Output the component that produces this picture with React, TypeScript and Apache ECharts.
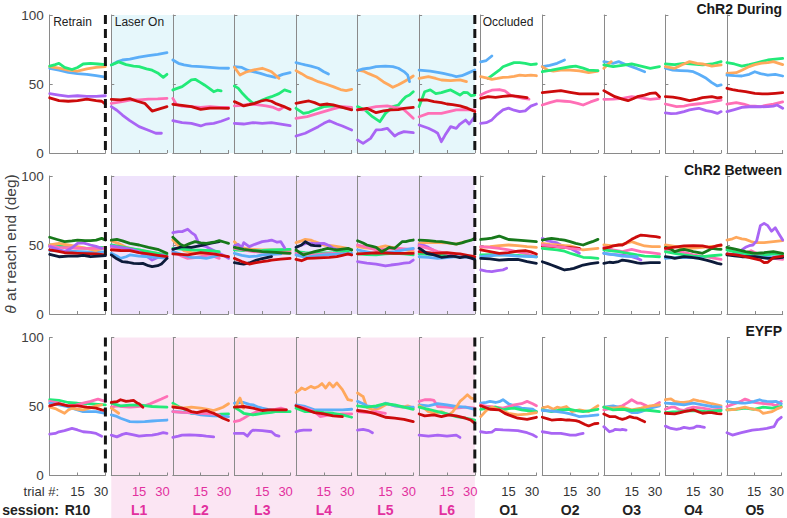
import React, { useEffect, useRef } from "react";
import * as echarts from "echarts";

// ---------------- data ----------------
const SESSIONS = ["R10", "L1", "L2", "L3", "L4", "L5", "L6", "O1", "O2", "O3", "O4", "O5"];
const ROW_TITLES = ["ChR2 During", "ChR2 Between", "EYFP"];
const PHASE_LABELS = [
  { col: 0, text: "Retrain" },
  { col: 1, text: "Laser On" },
  { col: 7, text: "Occluded" },
];
const X_TICK_LABELS = [15, 30];
const Y_TICKS = [0, 50, 100];

const COLORS: Record<string, string> = {
  blue: "#5BAEF8",
  orange: "#FFA85C",
  green: "#22EA78",
  pink: "#FF6FB6",
  red: "#CC0B0B",
  purple: "#A965F4",
  dkgreen: "#17781A",
  navy: "#0D1B3A",
};

type Line = [string, number[][]];

// Row 1: ChR2 During (one list of lines per session)
const DURING: Line[][] = [
  [
    ["blue", [[0,61.4],[5,60],[10,58.5],[15,57.5],[20,57],[25,56],[30,55]]],
    ["orange", [[0,62.6],[5,61.5],[10,60],[15,59.4],[20,61],[25,62],[30,62.6]]],
    ["green", [[0,63],[3,64],[5,65],[8,62],[12,60.5],[15,62],[18,64.5],[22,65],[26,64.5],[30,64]]],
    ["purple", [[0,43],[5,42],[10,41],[15,41.5],[20,41],[25,41],[30,41.5]]],
    ["red", [[0,40],[5,38],[10,37.5],[15,38],[20,39],[25,38],[28,37.5],[30,35.5]]],
  ],
  [
    ["blue", [[0,63.8],[3,66],[6,67.4],[10,68],[15,69.5],[20,70.5],[25,71.5],[30,72.7]]],
    ["green", [[0,63.8],[4,66],[8,64],[12,63],[15,62.6],[19,61],[22,60],[25,58],[28,54.8],[30,57]]],
    ["pink", [[0,36],[5,37],[10,38.4],[15,38.5],[20,39],[25,39.2],[30,39.6]]],
    ["red", [[0,38.9],[5,38.5],[10,39.4],[14,37.5],[18,36],[22,30.4],[26,32],[30,33.6]]],
    ["purple", [[0,33.6],[3,31],[6,27.5],[10,23.5],[15,19.1],[20,16.5],[24,14.3],[27,14.3]]],
  ],
  [
    ["blue", [[0,67.4],[3,65],[6,63.8],[10,63],[15,62.6],[20,62],[25,61.5],[30,61.4]]],
    ["green", [[0,45.7],[5,48.1],[8,51],[10,53],[12,53.4],[15,51],[17,49.3],[20,46.5],[22,44.4],[24,45.5],[26,45]]],
    ["pink", [[0,39.6],[2,35],[5,34],[10,33.6],[15,33.1],[20,33.5],[25,33],[30,33.1]]],
    ["red", [[0,35.3],[5,34.5],[10,33.6],[15,31.6],[20,32.5],[25,32.5],[30,32.4]]],
    ["purple", [[0,23.4],[5,22],[10,21.5],[15,19.6],[18,21],[22,21.5],[26,23],[30,25]]],
  ],
  [
    ["blue", [[0,62.6],[4,62],[7,60],[10,59],[14,57.7],[18,56],[22,54.8],[26,57],[30,58.2]]],
    ["orange", [[0,62.1],[3,56.5],[6,58.5],[10,60.1],[15,61.4],[18,60],[20,58.9],[22,56.5],[24,54.1]]],
    ["green", [[0,48.6],[2,47],[4,43.7],[7,39.5],[10,36],[13,37],[15,38.4],[18,40],[20,40.8],[24,43],[27,45.7],[30,44.4]]],
    ["pink", [[0,34.1],[4,34.5],[8,35.5],[12,35],[17,34.1],[21,33],[24,31.2],[27,33.6]]],
    ["red", [[0,37.2],[3,35.5],[5,34.1],[8,35],[11,36],[14,37.5],[17,38.4],[20,37.5],[22,36],[26,34],[30,31.6]]],
    ["purple", [[0,21.5],[5,21],[10,22],[15,21.5],[20,22],[25,21],[30,19.8]]],
  ],
  [
    ["blue", [[0,65.5],[3,64.5],[5,63.8],[8,63],[12,61.4],[15,58.9],[17.5,57.2]]],
    ["orange", [[0,59.7],[3,57.5],[6,55],[9,53.5],[12,51.7],[16,50],[20,48.1],[24,46],[27,45.2],[30,46.1]]],
    ["green", [[0,32.4],[4,28.7],[7,29.5],[10,31.2],[15,33.6],[20,34.1],[25,33.1],[30,32]]],
    ["pink", [[0,25.1],[6,26.3],[10,28],[15,30],[20,32],[25,33.6],[30,33.1]]],
    ["red", [[0,36],[4,37],[7,37.7],[10,36.5],[13,34.8],[17,35.5],[20,34.8],[25,33],[30,31.2]]],
    ["purple", [[0,12.3],[5,14.3],[9,17],[12,19.1],[15,21.5],[18,23.4],[22,21],[25,19.6],[30,16.7]]],
  ],
  [
    ["orange", [[0,60.1],[3,59.4],[6,57.5],[10,55.3],[14,51.5],[17,49.3],[19,47.6],[22,49.5],[25,51.7],[28,54],[30,55.8]]],
    ["blue", [[0,59.7],[3,61],[6,61.4],[10,62.6],[15,63],[19,62.6],[22,61.4],[25,59],[27,56.5],[28,51.7]]],
    ["green", [[0,33.6],[4,31.2],[8,26.3],[12,22.7],[15,28.7],[19,33.6],[22,34.8],[24,38],[26,40.8],[28,42],[30,44.4]]],
    ["pink", [[0,31.6],[3,31.2],[6,32.5],[10,33.6],[16,34.1],[20,33],[24,32.4],[27,29],[30,25.1]]],
    ["red", [[0,31.2],[5,32.4],[10,29.2],[14,30.5],[18,31.2],[22,31.5],[25,32.4],[30,33.1]]],
    ["purple", [[0,9.4],[3,7],[7,10.6],[10,16.7],[13,17],[16,17.9],[20,12.3],[22,14],[25,15.5],[30,14.7]]],
  ],
  [
    ["blue", [[0,60.1],[6,59.4],[10,58.5],[13,57.7],[17,56.5],[20,55.3],[23,56],[26,57.7],[30,60.1]]],
    ["orange", [[0,54.1],[5,55.3],[9,54],[12,52.9],[17,52.4],[22,53],[25.5,51.7]]],
    ["green", [[0,33.6],[3,44.4],[6,45.7],[9,43],[12,43.7],[15,45],[17,45.7],[20,43.5],[22,42],[24,44],[26,43.7],[28,41.5],[30,42]]],
    ["pink", [[0,26.3],[5,28.7],[12,28.7],[16,30],[20,31.2],[25,31.5],[30,31.2]]],
    ["red", [[0,38.4],[4,38.5],[8,37.2],[12,36.5],[15,35.5],[18,35],[22,34.1],[26,32.5],[30,30]]],
    ["purple", [[0,20.3],[5,17.9],[8,16],[10,14.3],[12,8.2],[14,13],[17,19.1],[20,17.9],[22,21],[25,23.9],[27,21],[30,26.3]]],
  ],
  [
    ["blue", [[0,66],[3,67],[6,70.3]]],
    ["green", [[4,54],[6,56],[8,58],[10,60],[12,62.5],[15,64],[18,65.5],[21,65.5],[24,65],[27,64],[30,64.5]]],
    ["orange", [[0,55.3],[3,54.5],[6,53.4],[9,54],[12,54.8],[15,55],[18,55.5],[21,56.5],[24,56],[27,56.5],[30,56]]],
    ["pink", [[0,42],[3,44],[6,45.5],[10,46],[13,45],[16,42],[20,40.5],[23,39.6],[26,39]]],
    ["red", [[0,39.6],[4,40.8],[8,40.3],[12,41],[16,41.5],[20,41],[25,40.1]]],
    ["purple", [[0,21.5],[3,22],[6,24],[9,28],[12,31.2],[15,32.5],[18,31],[21,30],[24,30.5],[27,34],[30,35.5]]],
  ],
  [
    ["blue", [[0,62.6],[4,63.5],[8,65],[12,67.4]]],
    ["orange", [[0,62.6],[3,60],[6,59.4],[10,60],[15,60.1],[20,59.5],[25,58.2],[30,59.4]]],
    ["green", [[0,58.9],[5,60],[10,61.4],[15,62.5],[18,63],[22,61.5],[25,60.1],[30,59.7]]],
    ["red", [[0,43.7],[5,44.5],[10,45.2],[15,44],[20,42.8],[25,42.8],[30,42.8]]],
    ["pink", [[0,34.8],[4,36.5],[8,37.9],[12,37.5],[15,37.2],[19,36],[22,34.8],[26,37],[30,38.9]]],
  ],
  [
    ["blue", [[0,66.2],[5,65],[8,66.2],[12,64],[15,62.6],[18,61],[22,58.9]]],
    ["orange", [[0,61.4],[2,64],[4,66.2]]],
    ["green", [[0,63.8],[5,62.6],[10,63.5],[15,64.5],[20,63],[25,61.4],[30,62.6]]],
    ["pink", [[0,38.9],[5,39],[10,39.6],[15,40.8],[20,40],[25,38.9],[30,39.6]]],
    ["red", [[0,45.2],[3,43],[6,40.8],[10,39],[13,37.9],[16,39.5],[18,40.8],[22,42],[25,43.2],[28,43.5],[30,40.8]]],
  ],
  [
    ["blue", [[0,61.4],[4,60],[8,59.7],[12,59.5],[15,58.9],[18,57],[22,54.1],[25,51],[28,48.6],[30,49.3]]],
    ["green", [[0,64.5],[5,64],[10,65],[15,64.5],[20,63.8],[25,64.5],[30,66.2]]],
    ["orange", [[0,62.6],[5,61.4],[9,64],[13,66.2],[17,65],[20,64.5],[25,63],[30,63.8]]],
    ["pink", [[0,35.5],[6,33.6],[10,34],[13,34.8],[17,35.5],[20,36],[25,37],[30,38.4]]],
    ["red", [[0,40.8],[4,40.5],[8,39.6],[13,37.9],[17,39],[20,40.1],[25,40.8],[28,40],[30,40.3]]],
    ["purple", [[0,29],[3,28.5],[6,28.7],[10,30],[13,31.2],[16,32],[18,32.4],[22,30.7],[25,30],[28,28.7],[30,30]]],
  ],
  [
    ["green", [[0,65.5],[4,64.5],[8,63],[12,64],[15,65],[18,66],[22,67.4],[26,68],[30,68.6]]],
    ["orange", [[0,57.7],[5,58.2],[8,60],[12,62.6],[15,64],[18,65],[22,65.5],[25,66.2],[30,64]]],
    ["blue", [[0,56.5],[4,56],[8,55.8],[12,57],[15,58.9],[18,57.5],[22,56.5],[26,57],[30,55.8]]],
    ["red", [[0,46.9],[3,46],[6,45.2],[10,44.5],[15,43.2],[19,42.8],[22,42.8],[26,43.2],[30,43.7]]],
    ["pink", [[0,35.5],[5,36.5],[9,35.5],[12,34.1],[15,34],[18,33.6],[21,34.5],[25,35.5],[30,37]]],
    ["purple", [[0,30],[4,31.5],[8,33.1],[12,33.5],[15,33.6],[18,33.5],[22,33.6],[25,34],[27,34.8],[30,32.4]]],
  ],
];

// Row 2: ChR2 Between
const BETWEEN: Line[][] = [
  [
    ["blue", [[0,46],[10,45.5],[20,45],[30,45]]],
    ["green", [[0,50],[5,49.3],[10,48.3],[15,48],[20,47.6],[25,48],[30,48.3]]],
    ["orange", [[0,50],[5,51.2],[10,50],[15,48.8],[20,47.5],[25,46],[30,48.3]]],
    ["pink", [[0,49.3],[5,48.3],[10,48],[15,47.6],[20,47.6],[25,47.6],[30,47.6]]],
    ["purple", [[0,48.8],[4,47],[8,45.2],[12,48],[15,51.2],[18,51.5],[22,50],[25,49],[28,47.6]]],
    ["red", [[0,46.4],[4,45.5],[8,44.4],[12,44.2],[15,44],[20,43.8],[25,43.5],[30,42.8]]],
    ["navy", [[0,43.2],[5,41.5],[10,42],[15,42],[18,42.5],[22,41.5],[26,42],[30,42.3]]],
    ["dkgreen", [[0,55.6],[4,54],[8,52.4],[12,53],[15,53.6],[19,53.2],[22,53.1],[25,53.5],[28,54.8],[30,53.6]]],
  ],
  [
    ["orange", [[0,53.1],[4,51],[8,48.3],[12,47],[15,46.4],[20,45],[25,44]]],
    ["green", [[0,50],[5,48.8],[10,47.6],[15,46.5],[20,45.2],[25,44],[30,42.8]]],
    ["pink", [[0,48.3],[5,47.5],[10,46.4],[15,44.5],[20,42.8],[25,42],[30,41.5]]],
    ["purple", [[0,49.3],[4,48.5],[8,47.6],[12,46.4],[15,45.2],[19,42],[22,39.1],[25,41],[27,42.8],[30,41.5]]],
    ["blue", [[0,44],[3,42],[5,40.3],[8,41.5],[10,42.8],[15,42],[20,41.5],[25,41],[30,40.3]]],
    ["red", [[0,46.4],[5,46],[10,45.9],[15,44.5],[20,43.5],[25,42.5],[30,41.5]]],
    ["navy", [[0,42.8],[3,40],[6,37.9],[9,37.5],[12,36.7],[15,36.5],[17,36.7],[20,35],[22,34.3],[25,35],[27,36.2],[30,40.3]]],
    ["dkgreen", [[0,53.6],[3,54.1],[6,53],[10,51.2],[15,50],[20,48.3],[25,46.9],[30,44]]],
  ],
  [
    ["purple", [[0,58.9],[3,59.7],[5,59.7],[8,61.4],[10,59],[12,57.2],[14,51.2],[16,49.5],[18,48.8],[22,46],[25,44],[28,42],[30,40.3]]],
    ["orange", [[0,53.6],[3,49.5],[6,45.9],[10,44.5],[15,44],[20,43.6],[25,42.8]]],
    ["green", [[0,47.6],[5,47],[10,46.4],[15,46.2],[20,45.9],[25,45.2]]],
    ["pink", [[0,45.2],[4,42.5],[8,40.3],[12,40.8],[15,41.5],[20,42.8],[25,40.3]]],
    ["blue", [[0,45.2],[5,43],[10,41.1],[15,40.8],[18,40.3],[22,41.5],[25,42.8]]],
    ["red", [[0,43.5],[4,43.2],[8,42.8],[12,43.8],[15,44.4],[19,44],[22,43.5],[26,42.5],[30,41.5]]],
    ["navy", [[0,46.9],[3,48],[5,48.8],[10,48.3],[15,49.5],[20,51.2],[25,52.4]]],
    ["dkgreen", [[0,55.6],[2,53],[4,50.5],[6,49.3],[9,51],[12,52.4],[15,51.5],[18,51.2],[22,52],[25,53.1],[28,52],[30,51.2]]],
  ],
  [
    ["orange", [[0,52.4],[3,48.3],[6,47.5],[10,46.9],[15,46.5],[20,46.4],[25,46.2],[30,45.9]]],
    ["green", [[0,46.4],[5,46],[10,45.9],[15,46],[20,46.4],[25,46.6],[30,46.9]]],
    ["pink", [[0,47.6],[5,46.5],[10,45.2],[15,44.8],[20,44],[25,44.2],[30,44.4]]],
    ["blue", [[0,44],[4,42.5],[8,41.5],[12,42],[15,42.8],[20,43.2],[25,43.5]]],
    ["purple", [[0,49.3],[2,50.5],[4,48.3],[5,51.7],[8,48.8],[11,50.5],[15,52.4],[18,53],[20,53.6],[23,52],[25,52.4],[27,48]]],
    ["dkgreen", [[0,48.3],[5,46.9],[10,46],[15,45.2],[20,44.8],[25,44.4],[30,44]]],
    ["navy", [[0,37.2],[3,36.5],[5,36.2],[8,37],[12,39.1],[15,40.2],[18,41.1],[20,41.5]]],
    ["red", [[0,40.3],[4,38],[8,36.2],[11,37],[15,37.9],[18,38.5],[20,39.1],[25,39.8],[30,40.3]]],
  ],
  [
    ["orange", [[0,51.7],[3,53],[5,54.1],[8,53.5],[10,52.4],[13,51],[15,50],[20,49.3],[25,48.3],[30,46.9]]],
    ["purple", [[3,50],[6,51.5],[10,51],[15,51.2],[18,49.5],[20,47.6],[25,45.9]]],
    ["green", [[0,45.2],[5,44.5],[10,44],[15,44.2],[20,44.4],[25,45],[30,46.4]]],
    ["pink", [[0,44],[5,43.5],[10,42.8],[15,43.5],[20,44],[25,43.5],[30,42.8]]],
    ["blue", [[0,42.8],[5,41.1],[10,42],[15,42.8],[20,43.2],[25,43.5],[30,44]]],
    ["navy", [[0,48.3],[3,50],[5,52.4],[8,50],[10,49.5],[13,49.3]]],
    ["red", [[0,39.6],[3,38.6],[6,40.3],[10,40.5],[15,40.8],[18,41],[22,41.5],[25,42.5],[28,43.5],[30,42.8]]],
    ["dkgreen", [[0,46.4],[2,44.5],[4,42.8],[7,44],[10,45.2],[14,46.5],[17,47.6],[20,46.8],[22,46.4],[25,47],[28,47.6],[30,46.4]]],
  ],
  [
    ["orange", [[0,48.8],[4,48],[8,47.6],[12,48.5],[15,49.3],[18,48.5],[22,47.6],[26,46.5],[30,45.2]]],
    ["pink", [[0,50],[5,48.5],[10,46.4],[15,47],[20,47.6],[25,47.2],[30,46.9]]],
    ["blue", [[0,46.4],[5,45],[10,43.5],[15,44.5],[20,45.2],[25,46.5],[30,47.6]]],
    ["green", [[0,43.5],[5,43],[10,42.8],[15,43.5],[20,44],[25,43.5],[30,42.8]]],
    ["red", [[0,43.5],[5,44],[10,44.4],[15,44.2],[20,44],[25,44],[30,44]]],
    ["purple", [[0,37.9],[5,36.8],[10,36.2],[15,34.8],[18,35.5],[22,36.2],[25,36.8],[28,37.2],[30,39.1]]],
    ["dkgreen", [[0,53.1],[3,51.5],[5,50],[8,49],[10,48.3],[13,45.2],[15,46.5],[17,48.3],[20,47.6],[22,50],[24,52.4],[26,52.5],[28,53.1],[30,53.6]]],
  ],
  [
    ["orange", [[0,51.2],[5,52],[10,51.7],[15,51.5],[20,50.7],[25,52.4]]],
    ["purple", [[0,50],[3,49.5],[5,48.3],[8,46],[10,44],[13,43],[15,42.8]]],
    ["pink", [[0,49.3],[5,47.6],[10,45.2],[15,44],[20,42.8]]],
    ["green", [[0,43.5],[5,43.2],[10,42.8],[15,42],[20,41.5]]],
    ["blue", [[0,41.5],[5,41],[10,40.3],[15,40.8],[20,41.5],[25,41.3],[30,41.1]]],
    ["red", [[0,45.2],[4,44.6],[8,44],[12,44.2],[15,44.4],[20,43.8],[22,43.5],[26,42.5],[30,41.5]]],
    ["navy", [[0,47.6],[2,46],[4,44],[8,42.8],[12,41.1],[15,41.5],[17,42],[20,41.5],[22,40.8],[25,41.5],[28,40.5],[30,39.6]]],
    ["dkgreen", [[0,53.6],[3,53.3],[5,53.1],[9,52.6],[12,52.4],[16,51.5],[20,50.7],[23,51.5],[25,52.4],[28,53.5],[30,54.8]]],
  ],
  [
    ["orange", [[0,48.3],[5,48.8],[10,49.5],[15,50],[20,49.5],[25,48.8],[30,48.3]]],
    ["pink", [[0,48.8],[5,48.3],[10,47.6],[15,46.5],[20,45],[25,43.5],[30,41.5]]],
    ["green", [[0,42.8],[5,43],[10,42.8],[15,42.8],[20,42.5],[25,42],[30,41.5]]],
    ["blue", [[0,41.5],[5,42.2],[10,42.8],[15,42.5],[20,42],[25,41.8],[30,41.5]]],
    ["red", [[0,46.4],[5,45.2],[10,44],[15,44.5],[20,45.5],[24,46],[27,45],[30,43.5]]],
    ["navy", [[0,40.3],[5,40],[10,39.1],[15,39.5],[20,39.6],[25,38],[30,36.7]]],
    ["purple", [[0,31.9],[3,31],[6,30.7],[9,31.5],[12,32],[14,33.1]]],
    ["dkgreen", [[0,54],[3,54.5],[6,55],[10,56.5],[13,55],[15,54],[20,53.6],[25,53],[30,52.4]]],
  ],
  [
    ["purple", [[0,54.8],[3,53],[5,52.4],[8,51.5],[10,50],[12,49],[15,47.6],[18,45.5],[20,44]]],
    ["orange", [[0,51.2],[4,50.5],[8,50],[12,49.6],[15,49.3],[18,48.3],[22,46.4],[26,47],[30,47.6]]],
    ["red", [[0,49.3],[5,49],[10,48.5],[15,48],[20,47.6]]],
    ["pink", [[0,50],[4,49.5],[8,48.8],[12,48.3],[15,47.6],[20,46.9]]],
    ["green", [[0,47.6],[4,47],[8,46.4],[12,45.5],[15,44],[18,42.8],[22,41.1],[26,40.8],[30,40.3]]],
    ["navy", [[0,37.9],[3,36.5],[5,35.5],[8,34],[12,31.9],[15,32.5],[17,33.1],[20,34.5],[22,35.5],[26,36.5],[30,37.2]]],
    ["dkgreen", [[0,53.6],[3,54.5],[5,54.8],[9,54],[12,53.6],[15,52.5],[18,51.2],[22,50],[25,51.5],[27,52.4],[30,54.1]]],
  ],
  [
    ["orange", [[0,50],[5,49.3],[10,50.5],[15,52.4],[18,51],[22,49.3],[26,48.8],[30,48.8]]],
    ["pink", [[0,48.3],[5,46.4],[10,45.2],[15,46.9],[20,45.2],[25,44.5],[30,43.5]]],
    ["green", [[0,46.4],[4,45.8],[8,45.2],[12,44.2],[15,43.5],[18,42.8],[22,42],[26,41.8],[30,41.5]]],
    ["purple", [[0,44],[4,43.2],[8,42.8],[12,42.2],[15,41.5],[18,40.3],[20,39.1]]],
    ["blue", [[0,44],[5,43],[10,42],[14,41.8],[18,41.5]]],
    ["navy", [[0,36.7],[3,37.5],[5,37.2],[8,38],[10,39.1],[13,38.5],[15,37.9],[18,37],[20,36.7],[25,37.2],[30,37.2]]],
    ["red", [[0,47.6],[3,48.5],[5,49.3],[8,50],[10,50],[12,51.5],[15,54.1],[17,55.5],[20,57.2],[23,56.8],[25,56.5],[28,56],[30,55.6]]],
  ],
  [
    ["orange", [[0,50],[5,49],[10,47.6],[15,47.8],[20,48.3],[25,49],[30,49.3]]],
    ["pink", [[0,46.4],[4,45.8],[8,45.2],[12,44],[15,42.8],[19,42],[22,41.5],[26,40.5],[30,39.6]]],
    ["green", [[0,45.2],[5,44],[10,42.8],[15,42],[20,41.5],[25,42.2],[30,42.8]]],
    ["blue", [[0,40.3],[5,40.8],[10,41.1],[15,40.8],[20,40.3]]],
    ["navy", [[0,41.5],[3,41],[5,40.3],[8,41],[10,41.5],[14,41],[18,40.3],[22,39.1],[25,38],[28,36.7],[30,36.2]]],
    ["dkgreen", [[0,48.3],[3,47],[5,45.2],[8,46.5],[10,46.9],[13,46],[15,45.2],[18,44.5],[20,44],[23,46],[25,47.6],[28,47],[30,46.9]]],
    ["red", [[0,47.6],[5,48.5],[10,49.3],[15,49.5],[20,49.3],[23,48.5],[25,48.3],[28,49.5],[30,50]]],
  ],
  [
    ["orange", [[0,53.6],[3,54.5],[5,55.6],[8,54.5],[10,54.1],[13,52.5],[15,51.7],[20,51.7],[25,52.4],[30,53.1]]],
    ["purple", [[8,46.4],[10,48.3],[12,49.5],[14,50],[16,53],[18,64],[20,65.7],[22,64],[24,60],[26,62.5],[28,58],[30,53.6]]],
    ["pink", [[0,47.6],[5,45.5],[10,44],[13,45.9],[16,44],[20,42.8],[25,40.3],[30,39.6]]],
    ["green", [[0,46.4],[4,45],[8,44],[12,43],[15,42],[20,42.5],[25,43.5],[30,42.8]]],
    ["blue", [[0,43.5],[5,43],[10,42],[15,41.5],[20,41.1],[25,41.3],[30,41.5]]],
    ["navy", [[0,42.8],[4,42.2],[8,41.5],[15,41.5],[22,40.3],[26,40.5],[30,41.1]]],
    ["red", [[0,43.5],[5,42.8],[10,41.5],[14,40.3],[18,39.1],[20,37.2],[22,37.5],[25,40.8],[30,42]]],
    ["dkgreen", [[0,48.3],[5,46.9],[10,45.2],[15,44],[20,44.4],[25,45.2],[30,44]]],
  ],
];

// Row 3: EYFP
const EYFP: Line[][] = [
  [
    ["green", [[0,54.9],[5,54.4],[10,52.9],[15,52.4],[22,52],[26,51.6],[30,51.2]]],
    ["pink", [[0,53.7],[5,52.4],[10,50.5],[14,51],[18,52.4],[22,53.7],[26,55.4],[30,53.7]]],
    ["blue", [[0,52.4],[5,51.2],[9,50],[12,48.8],[15,47.5],[18,46.3],[22,46.3],[25,46.3],[30,45.1]]],
    ["orange", [[0,49.5],[3,48.5],[5,47.1],[8,45.1],[10,47.5],[12,48.8],[15,48],[18,47.6],[22,49],[25,50.5],[28,51.2]]],
    ["red", [[0,50.5],[3,51.5],[5,52],[8,51],[10,50.5],[15,50.5],[20,49.5],[25,48.8],[28,47.5],[30,47.1]]],
    ["purple", [[0,30],[3,30.5],[5,31.7],[8,32.5],[12,34.1],[15,33],[18,31.7],[22,31.2],[25,30.5],[28,28.5]]],
  ],
  [
    ["pink", [[0,49.5],[3,50.5],[6,50],[10,49.5],[14,50],[18,50.5],[21,52],[24,53.7],[27,55.4],[30,57.3]]],
    ["green", [[0,52.4],[5,50.5],[10,51],[15,51.2],[19,50.5],[22,50],[26,49.8],[30,49.5]]],
    ["orange", [[0,48.8],[2,47],[4,45.1]]],
    ["blue", [[0,43.9],[3,42.8],[5,41.5],[8,40],[10,39],[14,38.9],[18,39],[22,39.5],[25,39.8],[30,40.2]]],
    ["red", [[0,53],[3,53.5],[5,54.9],[8,53.7],[10,54],[12,54.4],[14,52.5],[15,52],[17,49.5]]],
    ["purple", [[0,29.3],[3,28],[6,29.8],[8,30.5],[12,29.5],[15,28.5],[19,29],[22,29.3],[25,30],[28,31],[30,30.5]]],
  ],
  [
    ["green", [[0,52.4],[3,50],[5,48.8],[8,47],[10,45.1],[15,44.6],[20,44.2],[22,43.9],[26,44.4],[30,44.6]]],
    ["orange", [[0,50.5],[5,48.8],[10,49.5],[15,48.8],[19,48],[22,47.1],[25,48.5],[27,49.5],[30,52]]],
    ["blue", [[0,46.3],[4,46],[8,45.6],[12,44.8],[15,43.9],[18,43.5],[22,43.2],[26,43],[30,42.7]]],
    ["pink", [[0,46.3],[5,45.8],[10,45.6],[15,45],[20,44.6],[25,43.9]]],
    ["red", [[0,49.5],[5,48.8],[8,47.5],[10,46.3],[13,45.5],[15,46.3],[18,47.1],[20,46],[22,45.1],[25,43],[27,41.5],[30,39.8]]],
    ["purple", [[0,27.6],[3,28.5],[5,29.3],[9,29.5],[12,29.3],[15,29],[18,28.5],[22,28]]],
  ],
  [
    ["blue", [[0,52.4],[3,52.9],[5,52.9],[8,51.5],[10,51.2],[13,49.5],[15,48.8],[18,48],[20,47.6],[25,47.1],[28,46.3]]],
    ["orange", [[1,50],[2,54],[3,56.1],[5,48.8]]],
    ["pink", [[0,39],[3,40],[5,41.5],[8,43.9],[12,46.3],[15,46.8],[18,47.1],[22,48],[25,48.8],[28,47.6]]],
    ["green", [[0,49.5],[3,47],[5,45.1],[10,43.9],[15,45.1],[20,45.8],[22,46.3],[26,46.5],[30,46.3]]],
    ["red", [[0,49.5],[5,50],[10,48.8],[15,47.1],[18,47.5],[22,47.6],[28,47.6]]],
    ["purple", [[0,30.5],[5,30.5],[7,28.5],[9,32],[10,32.9],[15,32.5],[20,31.7],[22,29.3],[24,28.5]]],
  ],
  [
    ["orange", [[0,60.2],[2,62],[3,63.4],[5,62.2],[8,64.6],[10,63.4],[12,64.5],[14,66.6],[16,63.4],[18,67.1],[20,64.1],[22,67.1],[25,62.2],[28,54.9],[30,54.4]]],
    ["blue", [[0,51.2],[5,50],[10,47.6],[15,47.6],[20,47.6],[25,47.5],[30,48]]],
    ["pink", [[0,50.5],[5,48.8],[10,46.3],[13,42.7],[18,43.9],[25,44.6],[30,44.6]]],
    ["green", [[0,48.8],[5,46.3],[10,46.3],[15,45.5],[20,45.1],[25,43.9],[30,42.2]]],
    ["red", [[0,50.5],[5,48],[10,45.6],[15,44.6],[20,43.2],[25,42.7]]],
    ["purple", [[0,31.7],[2,32.5],[4,32.9],[8,32.9]]],
  ],
  [
    ["orange", [[0,59.8],[2,58],[3,57.3],[5,49.5],[8,47.6],[12,48.8],[16,52],[20,50.5],[24,49.5],[27,50.5],[30,48.8]]],
    ["blue", [[0,53.7],[3,52],[5,50.5],[10,49.5],[15,52.4],[20,50.5],[25,49.5],[30,49.5]]],
    ["green", [[0,50.5],[5,49.5],[10,50.5],[15,52],[20,51.2],[25,49.5],[30,48]]],
    ["pink", [[0,46.3],[5,45.6],[10,46.3],[15,45.1]]],
    ["red", [[0,47.1],[5,46.3],[10,44.6],[13,43.2],[15,42.2],[20,41.5],[25,40.7],[30,39]]],
    ["purple", [[0,32.9],[3,33.4],[6,32.5],[8,31]]],
  ],
  [
    ["pink", [[0,53.7],[3,54.9],[6,54.9],[8,54.4],[10,50],[15,49.5],[20,48.8],[25,49.5],[30,48.8]]],
    ["blue", [[0,51.2],[5,50.5],[10,52],[15,51.2],[20,50],[25,49.5],[30,48]]],
    ["orange", [[0,50.5],[3,48.5],[5,46.3],[8,45.1],[12,46.3],[16,43.9],[18,46],[20,49.5],[22,53.7],[24,56],[26,58.5],[28,56.1],[30,55.4]]],
    ["green", [[0,49.5],[5,48],[10,46.3],[15,44.6],[20,42.7],[25,41.5],[30,40.2]]],
    ["red", [[0,44.6],[3,43.2],[8,43.9],[12,42.7],[16,43.9],[20,43.2],[25,41.5],[28,40],[30,37.8]]],
    ["purple", [[0,29.3],[5,28.5],[10,29.3],[15,28.5],[20,29.3],[22,27.6]]],
  ],
  [
    ["blue", [[0,52.4],[3,53],[5,53.7],[8,52.9],[10,53.5],[12,54.9],[15,52],[18,50.5],[22,48.8],[25,48.5],[28,48],[30,46.3]]],
    ["pink", [[0,51.2],[4,50],[8,49.5],[12,48.8],[15,50],[18,51.2],[22,52],[25,53.7],[28,52],[30,50.5]]],
    ["green", [[0,48],[4,48.8],[8,49.5],[12,47.6],[15,48.5],[18,48.8],[22,47.6],[25,47],[28,46.3],[30,46.3]]],
    ["orange", [[0,42.7],[3,47.1],[6,49.5],[10,47.6],[15,45.1],[20,43.9],[25,44.4],[30,45.6]]],
    ["red", [[0,50.5],[5,48],[10,47.6],[13,45],[15,43.9],[18,42.5],[20,41.5],[25,40.7],[30,42.2]]],
    ["purple", [[0,31.7],[3,31],[6,31.5],[8,33.4],[12,33],[15,32.9],[20,32.5],[25,31],[28,29.5],[30,28]]],
  ],
  [
    ["orange", [[0,48.8],[3,50],[6,48],[8,49.5],[10,48.8],[13,50],[16,46.3],[20,47.6],[25,46.3],[30,50.5]]],
    ["green", [[0,47.6],[5,46.3],[10,47.5],[15,48],[18,47.1],[22,46.3],[26,47],[30,48]]],
    ["blue", [[0,47.1],[4,46.8],[8,46.3],[12,45.5],[15,44.6],[18,43.5],[20,42.7],[25,43.2],[30,43.9]]],
    ["red", [[0,42.2],[3,41],[5,40.2],[8,40.5],[10,40.7],[13,40.2],[15,40.2],[18,39.8],[20,39],[23,37],[25,35.9],[28,37.5],[30,37.8]]],
    ["purple", [[0,31.7],[3,31],[5,30.5],[8,30.5],[10,30.5],[13,29.8],[15,29.3],[18,29.3],[20,30],[22,30.5]]],
  ],
  [
    ["pink", [[0,47.6],[5,48.8],[10,50.5],[13,53],[15,54.9],[18,52.5],[20,52.4],[23,50.5],[25,49.5],[28,51.5],[30,52.9]]],
    ["blue", [[0,49.5],[5,50.5],[10,48.8],[13,47],[15,45.6],[18,45.5],[20,46.3],[25,48.8],[30,50.5]]],
    ["orange", [[0,49.5],[5,48.8],[10,49.5],[15,47.6],[20,48.8],[25,50.5],[30,51.2]]],
    ["green", [[0,49.5],[5,47.6],[10,48],[15,47.1],[20,47.6],[25,47.1],[30,46.3]]],
    ["red", [[0,44.6],[3,42.7],[6,42.7],[8,41.5],[10,40.7],[12,41.5],[14,42.7],[16,42],[18,41.5],[20,40.2],[22,39]]],
    ["purple", [[0,35.4],[2,33],[3,31.7],[5,32.5],[6,33.4],[9,33],[10,33.4],[12,32.9]]],
  ],
  [
    ["orange", [[0,54.9],[3,55.5],[5,53.7],[8,53],[10,52.9],[13,53.5],[15,54.9],[18,54],[20,53.7],[25,52],[30,50.5]]],
    ["blue", [[0,52.4],[5,52],[10,51.2],[15,52.4],[20,51.2],[25,50],[30,49.5]]],
    ["pink", [[0,48],[3,49.5],[5,49.5],[8,47.5],[10,47.1],[12,48.5],[15,49.5],[20,48.8],[25,47.6],[30,48]]],
    ["green", [[0,45.6],[4,46],[8,46.3],[12,46.8],[15,47.1],[18,46.8],[22,46.3],[26,46.8],[30,47.1]]],
    ["red", [[0,45.1],[5,44.6],[8,45.5],[10,46.3],[13,47],[15,47.6],[18,46],[20,45.1],[23,45.6],[25,45.6],[28,44.8],[30,44.6]]],
    ["purple", [[0,35.8],[3,34.1],[6,33.4],[8,34],[10,34.9],[13,34.1],[15,34.5],[17,35.8],[19,35.5],[21,34.9]]],
  ],
  [
    ["pink", [[0,50],[3,51.5],[5,52.4],[8,54],[10,55.4],[12,54.4],[13,53.7],[15,53],[18,52.4],[22,52],[25,51.5],[27,50.5],[30,53.7]]],
    ["blue", [[0,53.7],[3,53],[5,52.9],[8,52.5],[10,52.4],[13,53],[15,53.7],[18,54.9],[20,54],[22,53.7],[25,53.5],[27,53.7],[30,52]]],
    ["green", [[0,47.6],[5,48],[10,48.8],[15,48],[20,49.5],[25,48.8],[30,50]]],
    ["orange", [[0,47.6],[3,47.8],[5,48],[8,49],[10,49.5],[13,48.5],[15,48],[18,47.1],[20,45.1],[22,45.5],[25,46.3],[28,48.5],[30,49.5]]],
    ["purple", [[0,31],[3,29.3],[5,30],[8,31],[11,32],[14,32.9],[18,33.4],[22,34.1],[26,35.4],[28,40.2],[30,42.2]]],
  ],
];

const ROWS = [DURING, BETWEEN, EYFP];

// ---------------- layout / style ----------------
const W = 787;
const H = 518;
const LEFT0 = 49.7;
const STRIDE = 61.57;
const PW = 55.7;
const TOPS = [15, 176, 337.5];
const PH = 138;
const FONT = '"Liberation Sans", Arial, Helvetica, sans-serif';
const AXIS_GREY = "#8a8a8a";
const MAGENTA = "#E2309E";
const SHADES = ["#E6F7FB", "#EFE3FC", "#FBE5F3"];

const isLaser = (c: number) => c >= 1 && c <= 6;
const panelLeft = (c: number) => LEFT0 + c * STRIDE;

function buildOption() {
  const grid: any[] = [];
  const xAxis: any[] = [];
  const yAxis: any[] = [];
  const series: any[] = [];
  const graphic: any[] = [];

  ROWS.forEach((rowData, r) => {
    rowData.forEach((lines, c) => {
      const idx = grid.length;
      grid.push({ left: panelLeft(c), top: TOPS[r], width: PW, height: PH, containLabel: false });
      const labelColor = isLaser(c) ? MAGENTA : "#333333";
      xAxis.push({
        gridIndex: idx,
        type: "value",
        min: 0,
        max: 30,
        interval: 15,
        axisLine: { show: true, lineStyle: { color: AXIS_GREY, width: 1 } },
        axisTick: { show: true, inside: true, length: 3, lineStyle: { color: AXIS_GREY } },
        splitLine: { show: false },
        axisLabel: {
          show: r === 2,
          margin: 9,
          color: labelColor,
          fontSize: 13,
          fontFamily: FONT,
          formatter: (v: number) =>
            X_TICK_LABELS.includes(v) ? (v === 30 ? "{r|30}" : String(v)) : "",
          rich: { r: { padding: [0, 9, 0, 0], color: labelColor, fontSize: 13, fontFamily: FONT } },
        },
      });
      yAxis.push({
        gridIndex: idx,
        type: "value",
        min: 0,
        max: 100,
        interval: 50,
        axisLine: { show: true, lineStyle: { color: AXIS_GREY, width: 1 } },
        axisTick: { show: true, inside: true, length: 3, lineStyle: { color: AXIS_GREY } },
        splitLine: { show: false },
        axisLabel: {
          show: c === 0,
          margin: 6,
          color: "#404040",
          fontSize: 13.5,
          fontFamily: FONT,
          formatter: (v: number) => (Y_TICKS.includes(v) ? String(v) : ""),
        },
      });
      lines.forEach(([key, pts]) => {
        series.push({
          type: "line",
          xAxisIndex: idx,
          yAxisIndex: idx,
          data: pts,
          showSymbol: false,
          symbol: "none",
          silent: true,
          lineStyle: { color: COLORS[key], width: 2.8, cap: "round", join: "round" },
          z: 3,
        });
      });
    });

    // background shading for laser sessions
    const sx = panelLeft(1);
    const ex = panelLeft(6) + PW;
    const bottom = r === 2 ? H : TOPS[r] + PH;
    graphic.push({
      type: "rect",
      z: -10,
      silent: true,
      shape: { x: sx, y: TOPS[r], width: ex - sx, height: bottom - TOPS[r] },
      style: { fill: SHADES[r] },
    });

    // dashed separators
    [panelLeft(0) + PW, panelLeft(6) + PW].forEach((x) => {
      graphic.push({
        type: "line",
        z: 100,
        silent: true,
        shape: { x1: x, y1: TOPS[r], x2: x, y2: TOPS[r] + PH },
        style: { stroke: "#151515", lineWidth: 3, lineDash: [9, 5] },
      });
    });

    // row titles
    graphic.push({
      type: "text",
      z: 100,
      x: 782,
      y: TOPS[r] - 6.5,
      style: {
        text: ROW_TITLES[r],
        fill: "#1a1a1a",
        font: `bold 14px ${FONT}`,
        align: "right",
        verticalAlign: "middle",
      },
    });
  });

  // phase labels (row 1)
  PHASE_LABELS.forEach((p) => {
    graphic.push({
      type: "text",
      z: 100,
      x: panelLeft(p.col) + (p.col === 7 ? 2 : 3.5),
      y: TOPS[0] + 7,
      style: { text: p.text, fill: "#222", font: `12px ${FONT}`, align: "left", verticalAlign: "middle" },
    });
  });

  // y-axis title
  graphic.push({
    type: "text",
    z: 100,
    x: 10,
    y: 244,
    rotation: Math.PI / 2,
    style: {
      text: "{i|θ} at reach end (deg)",
      fill: "#404040",
      font: `15.5px ${FONT}`,
      align: "center",
      verticalAlign: "middle",
      rich: { i: { fontStyle: "italic", fontSize: 15.5, fontFamily: FONT, fill: "#404040" } },
    },
  });

  // bottom row labels
  graphic.push({
    type: "text",
    z: 100,
    x: 59,
    y: 491.5,
    style: { text: "trial #:", fill: "#333", font: `13px ${FONT}`, align: "right", verticalAlign: "middle" },
  });
  graphic.push({
    type: "text",
    z: 100,
    x: 59,
    y: 510,
    style: { text: "session:", fill: "#222", font: `bold 14px ${FONT}`, align: "right", verticalAlign: "middle" },
  });
  SESSIONS.forEach((s, c) => {
    graphic.push({
      type: "text",
      z: 100,
      x: panelLeft(c) + PW / 2,
      y: 510,
      style: {
        text: s,
        fill: isLaser(c) ? MAGENTA : "#222",
        font: `bold 14px ${FONT}`,
        align: "center",
        verticalAlign: "middle",
      },
    });
  });

  return {
    animation: false,
    backgroundColor: "#ffffff",
    grid,
    xAxis,
    yAxis,
    series,
    graphic,
  };
}

export default function App() {
  const ref = useRef<HTMLDivElement>(null);
  useEffect(() => {
    if (!ref.current) return;
    const chart = echarts.init(ref.current, undefined, { renderer: "svg" });
    chart.setOption(buildOption() as any);
    return () => chart.dispose();
  }, []);
  return (
    <div
      ref={ref}
      style={{ position: "fixed", left: 0, top: 0, width: W, height: H, background: "#fff" }}
    />
  );
}
